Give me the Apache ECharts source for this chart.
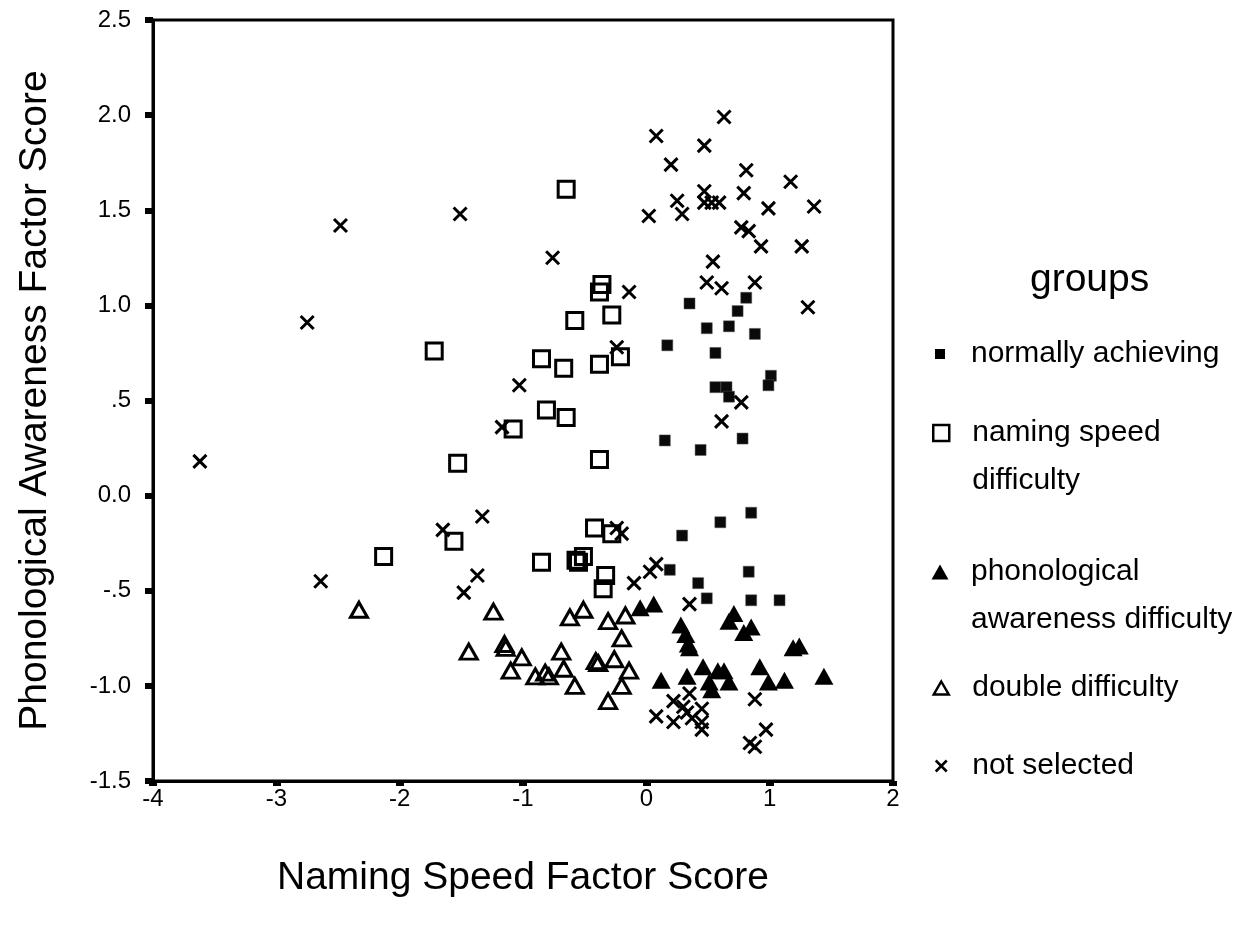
<!DOCTYPE html>
<html>
<head>
<meta charset="utf-8">
<script src="https://cdn.jsdelivr.net/npm/echarts@6/dist/echarts.min.js"></script>
<style>
  html, body { margin: 0; padding: 0; background: #fff; }
  #chart { width: 1254px; height: 933px; }
</style>
</head>
<body>
<div id="chart"></div>
<script>
// ---- Data (x = Naming Speed Factor Score, y = Phonological Awareness Factor Score) ----
const groupNames = ['normally achieving', 'naming speed\ndifficulty', 'phonological\nawareness difficulty', 'double difficulty', 'not selected'];

const normallyAchieving = [
  [0.35, 1.01], [0.81, 1.04], [0.74, 0.97], [0.49, 0.88], [0.67, 0.89], [0.88, 0.85],
  [0.17, 0.79], [0.56, 0.75], [1.01, 0.63], [0.99, 0.58], [0.56, 0.57], [0.65, 0.57],
  [0.67, 0.52], [0.15, 0.29], [0.44, 0.24], [0.78, 0.30], [0.85, -0.09], [0.60, -0.14],
  [0.29, -0.21], [0.19, -0.39], [0.83, -0.40], [0.42, -0.46], [0.49, -0.54], [0.85, -0.55],
  [1.08, -0.55]
];

const namingSpeedDifficulty = [
  [-0.65, 1.61], [-0.36, 1.11], [-0.38, 1.07], [-0.28, 0.95], [-0.58, 0.92], [-1.72, 0.76],
  [-0.85, 0.72], [-0.67, 0.67], [-0.38, 0.69], [-0.21, 0.73], [-0.81, 0.45], [-0.65, 0.41],
  [-1.08, 0.35], [-1.53, 0.17], [-0.38, 0.19], [-2.13, -0.32], [-1.56, -0.24], [-0.42, -0.17],
  [-0.28, -0.20], [-0.85, -0.35], [-0.51, -0.32], [-0.55, -0.35], [-0.57, -0.34], [-0.33, -0.42],
  [-0.35, -0.49]
];

const phonologicalDifficulty = [
  [-0.05, -0.59], [0.06, -0.57], [0.28, -0.68], [0.32, -0.73], [0.34, -0.78], [0.35, -0.80],
  [0.71, -0.62], [0.67, -0.66], [0.79, -0.72], [0.85, -0.69], [1.19, -0.80], [1.24, -0.79],
  [0.12, -0.97], [0.33, -0.95], [0.46, -0.90], [0.51, -0.98], [0.53, -1.02], [0.58, -0.92],
  [0.63, -0.92], [0.67, -0.98], [0.92, -0.90], [0.99, -0.98], [1.12, -0.97], [1.44, -0.95]
];

const doubleDifficulty = [
  [-2.33, -0.60], [-1.24, -0.61], [-1.44, -0.82], [-1.15, -0.78], [-1.14, -0.80], [-1.01, -0.85],
  [-1.10, -0.92], [-0.90, -0.95], [-0.79, -0.95], [-0.82, -0.93], [-0.69, -0.82], [-0.67, -0.91],
  [-0.58, -1.00], [-0.62, -0.64], [-0.51, -0.60], [-0.31, -0.66], [-0.17, -0.63], [-0.20, -0.75],
  [-0.41, -0.87], [-0.39, -0.88], [-0.26, -0.86], [-0.14, -0.92], [-0.20, -1.00], [-0.31, -1.08]
];

const notSelected = [
  [-3.62, 0.18], [-2.48, 1.42], [-1.51, 1.48], [-2.75, 0.91], [-1.03, 0.58], [-1.17, 0.36],
  [-1.33, -0.11], [-1.65, -0.18], [-2.64, -0.45], [-1.37, -0.42], [-1.48, -0.51],
  [0.63, 1.99], [0.08, 1.89], [0.47, 1.84], [0.20, 1.74], [0.81, 1.71], [1.17, 1.65],
  [0.47, 1.60], [0.79, 1.59], [0.25, 1.55], [0.47, 1.54], [0.53, 1.54], [0.59, 1.54],
  [1.36, 1.52], [0.99, 1.51], [0.02, 1.47], [0.29, 1.48], [0.77, 1.41], [0.83, 1.39],
  [0.93, 1.31], [1.26, 1.31], [0.54, 1.23], [0.49, 1.12], [0.61, 1.09], [0.88, 1.12],
  [-0.14, 1.07], [1.31, 0.99], [-0.24, 0.78], [0.77, 0.49], [0.61, 0.39], [-0.76, 1.25],
  [-0.24, -0.17], [-0.20, -0.20], [-0.10, -0.46], [0.08, -0.36], [0.03, -0.40], [0.35, -0.57],
  [0.88, -1.07], [0.97, -1.23], [0.84, -1.30], [0.88, -1.32],
  [0.08, -1.16], [0.22, -1.08], [0.35, -1.04], [0.30, -1.11], [0.45, -1.12], [0.22, -1.19],
  [0.37, -1.17], [0.45, -1.19], [0.45, -1.23], [0.33, -1.14]
];

// ---- Axis ticks ----
const xTickValues = [-4, -3, -2, -1, 0, 1, 2];
const xTickLabels = ['-4', '-3', '-2', '-1', '0', '1', '2'];
const yTickValues = [-1.5, -1, -0.5, 0, 0.5, 1, 1.5, 2, 2.5];
const yTickLabels = ['-1.5', '-1.0', '-.5', '0.0', '.5', '1.0', '1.5', '2.0', '2.5'];

const xTitle = 'Naming Speed Factor Score';
const yTitle = 'Phonological Awareness Factor Score';
const legendTitle = 'groups';

// ---- Styling ----
const FONT = '"Liberation Sans", Arial, Helvetica, sans-serif';
const SQUARE = 'path://M0,0H10V10H0Z';
const TRIANGLE = 'path://M5,0L10,9L0,9Z';
const CROSS = 'path://M0,0L10,10M10,0L0,10';

function lookup(values, labels, v) {
  for (let i = 0; i < values.length; i++) {
    if (Math.abs(values[i] - v) < 1e-9) return labels[i];
  }
  return '';
}

const chart = echarts.init(document.getElementById('chart'), null, { renderer: 'canvas' });

const LINE_H = 48;
const legendText = { fontSize: 30, fontFamily: FONT, color: '#000', lineHeight: LINE_H };

// Legend icon: the visible shape occupies [0,w]x[0,h]; an invisible move-to point
// widens the icon box so the text starts at the wanted distance, and (for two-line
// labels) lowers the box centre so the shape sits beside the first text line.
const SYM_CX = 940, TEXT_X = 971;
function legendItem(name, firstLineCenterY, shape, w, h, lines, itemStyle) {
  const W = TEXT_X - 5 - (SYM_CX - w / 2);
  const H = lines === 2 ? (h / 2 + LINE_H / 2) * 2 : h;
  return {
    left: SYM_CX - w / 2,
    top: firstLineCenterY - LINE_H / 2,
    padding: 0, selectedMode: false,
    itemWidth: W, itemHeight: H,
    symbolKeepAspect: false,
    data: [{ name: name, icon: 'path://' + shape + ' M' + W + ',' + H }],
    itemStyle: itemStyle,
    textStyle: legendText
  };
}

const option = {
  animation: false,
  backgroundColor: '#fff',
  title: {
    text: legendTitle, left: 1030, top: 261, padding: 0,
    textStyle: { fontSize: 39, fontWeight: 'normal', fontFamily: FONT, color: '#000' }
  },
  legend: [
    legendItem(groupNames[0], 354, 'M0,0H10V10H0Z', 10, 10, 1,
      { color: '#000', borderWidth: 0 }),
    legendItem(groupNames[1], 433, 'M0,0H16V16H0Z', 16, 16, 2,
      { color: 'rgba(0,0,0,0)', borderColor: '#000', borderWidth: 2.5 }),
    legendItem(groupNames[2], 572, 'M8.5,0L17,15L0,15Z', 17, 15, 2,
      { color: '#000', borderWidth: 0 }),
    legendItem(groupNames[3], 688, 'M7.5,0L15,13L0,13Z', 15, 13, 1,
      { color: 'rgba(0,0,0,0)', borderColor: '#000', borderWidth: 2.5 }),
    legendItem(groupNames[4], 766, 'M0,0L11,11M11,0L0,11', 11, 11, 1,
      { color: 'rgba(0,0,0,0)', borderColor: '#000', borderWidth: 2.5 })
  ],
  grid: {
    left: 153, top: 20, right: 361, bottom: 152,
    show: true, borderColor: '#000', borderWidth: 3, backgroundColor: 'transparent'
  },
  xAxis: {
    type: 'value', min: -4, max: 2, interval: 1,
    name: xTitle, nameLocation: 'middle', nameGap: 78,
    nameTextStyle: { fontSize: 39, fontFamily: FONT, color: '#000' },
    axisLine: { show: true, onZero: false, lineStyle: { color: '#000', width: 3 } },
    axisTick: { show: true, inside: false, length: 5, lineStyle: { color: '#000', width: 8 } },
    axisLabel: {
      margin: 6, fontSize: 24, fontFamily: FONT, color: '#000',
      formatter: v => lookup(xTickValues, xTickLabels, v)
    },
    splitLine: { show: false }
  },
  yAxis: {
    type: 'value', min: -1.5, max: 2.5, interval: 0.5,
    name: yTitle, nameLocation: 'middle', nameGap: 98,
    nameTextStyle: { fontSize: 39, fontFamily: FONT, color: '#000' },
    axisLine: { show: true, onZero: false, lineStyle: { color: '#000', width: 3 } },
    axisTick: { show: true, inside: false, length: 8, lineStyle: { color: '#000', width: 6 } },
    axisLabel: {
      margin: 22, fontSize: 24, fontFamily: FONT, color: '#000',
      formatter: v => lookup(yTickValues, yTickLabels, v)
    },
    splitLine: { show: false }
  },
  series: [
    {
      name: groupNames[0], type: 'scatter', data: normallyAchieving,
      symbol: SQUARE, symbolSize: 11,
      itemStyle: { color: '#0a0a0a', borderColor: '#555', borderWidth: 0.5, opacity: 1 }
    },
    {
      name: groupNames[1], type: 'scatter', data: namingSpeedDifficulty,
      symbol: SQUARE, symbolSize: 16,
      itemStyle: { color: 'rgba(0,0,0,0)', borderColor: '#000', borderWidth: 3, opacity: 1 }
    },
    {
      name: groupNames[2], type: 'scatter', data: phonologicalDifficulty,
      symbol: TRIANGLE, symbolSize: [19, 17],
      itemStyle: { color: '#000', borderWidth: 0, opacity: 1 }
    },
    {
      name: groupNames[3], type: 'scatter', data: doubleDifficulty,
      symbol: TRIANGLE, symbolSize: [17, 15],
      itemStyle: { color: 'rgba(0,0,0,0)', borderColor: '#000', borderWidth: 3, opacity: 1 }
    },
    {
      name: groupNames[4], type: 'scatter', data: notSelected,
      symbol: CROSS, symbolSize: 13,
      itemStyle: { color: 'rgba(0,0,0,0)', borderColor: '#000', borderWidth: 3, opacity: 1 }
    }
  ]
};

chart.setOption(option);
</script>
</body>
</html>
